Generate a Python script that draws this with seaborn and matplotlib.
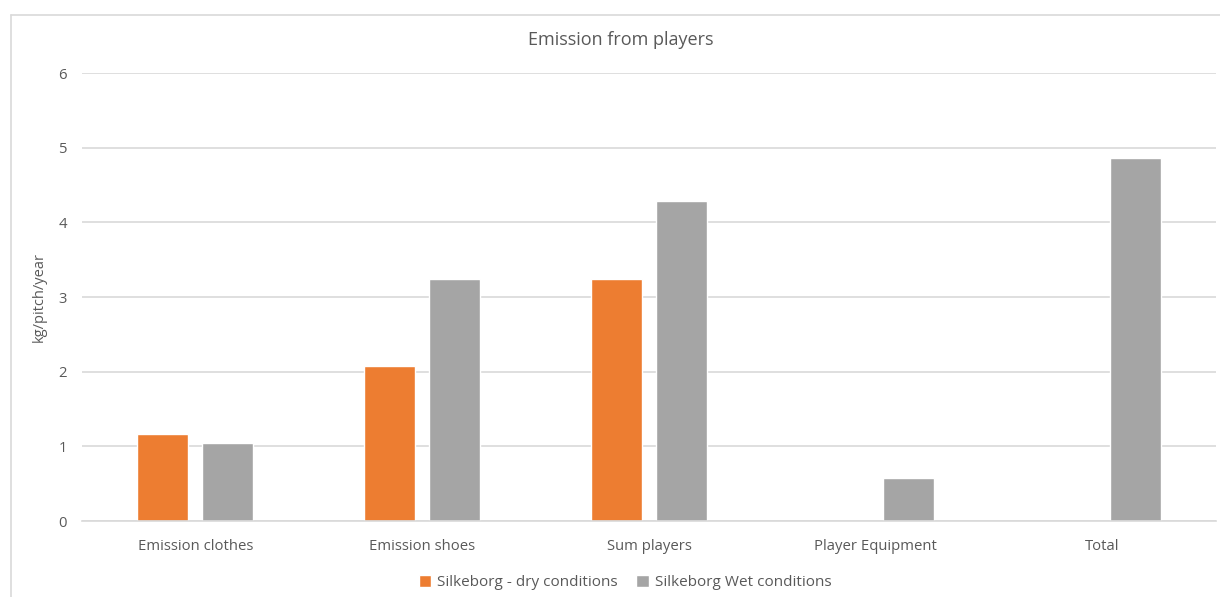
import matplotlib
matplotlib.use("Agg")
import matplotlib.pyplot as plt
from matplotlib.lines import Line2D
import seaborn as sns
import pandas as pd

# Data
categories = ["Emission clothes", "Emission shoes", "Sum players", "Player Equipment", "Total"]
dry_values = [1.17, 2.07, 3.24, None, None]
wet_values = [1.05, 3.24, 4.29, 0.58, 4.86]
series_names = ["Silkeborg - dry conditions", "Silkeborg Wet conditions"]
colors = ["#ED7D31", "#A5A5A5"]

rows = []
for cat, d, w in zip(categories, dry_values, wet_values):
    rows.append({"category": cat, "series": series_names[0], "value": d})
    rows.append({"category": cat, "series": series_names[1], "value": w})
df = pd.DataFrame(rows)

sns.set_theme(style="white")
plt.rcParams['font.family'] = ['Open Sans', 'DejaVu Sans']
text_color = "#595959"

fig = plt.figure(figsize=(12.2, 5.97), dpi=100)
ax = fig.add_axes([0.0672, 0.1273, 0.9295, 0.7504])

sns.barplot(data=df, x="category", y="value", hue="series", order=categories,
            hue_order=series_names, palette=colors, width=0.573, gap=0.215,
            saturation=1, ax=ax, legend=True)

ax.set_ylim(0, 6)
ax.set_xlim(-0.5, len(categories) - 0.5)
ax.set_yticks(range(0, 7))
ax.yaxis.grid(True, color="#D9D9D9", linewidth=1.2)
ax.set_axisbelow(True)
for s in ["top", "right", "left"]:
    ax.spines[s].set_visible(False)
ax.spines["bottom"].set_color("#D9D9D9")
ax.spines["bottom"].set_linewidth(1.2)
ax.tick_params(axis="both", length=0, colors=text_color, labelsize=10.7)
ax.tick_params(axis="y", pad=11)
ax.tick_params(axis="x", pad=13)
ax.set_xlabel("")
ax.set_ylabel("kg/pitch/year", color=text_color, fontsize=10.5, labelpad=8)

ax.set_title("Emission from players", color=text_color, fontsize=13, pad=20, x=0.475)

handles, labels = ax.get_legend_handles_labels()
ax.legend(handles, labels, loc="upper center", bbox_to_anchor=(0.479, -0.09),
          ncol=2, frameon=False, fontsize=11, labelcolor=text_color,
          handlelength=0.8, handleheight=0.8, handletextpad=0.4, columnspacing=1.2)

# chart-area border (left and top edges visible)
fig.add_artist(Line2D([11 / 1220, 11 / 1220], [0, 1 - 15 / 597], color="#D9D9D9", linewidth=1.2))
fig.add_artist(Line2D([11 / 1220, 1], [1 - 15 / 597, 1 - 15 / 597], color="#D9D9D9", linewidth=1.2))

fig.savefig("out.png", dpi=100)
